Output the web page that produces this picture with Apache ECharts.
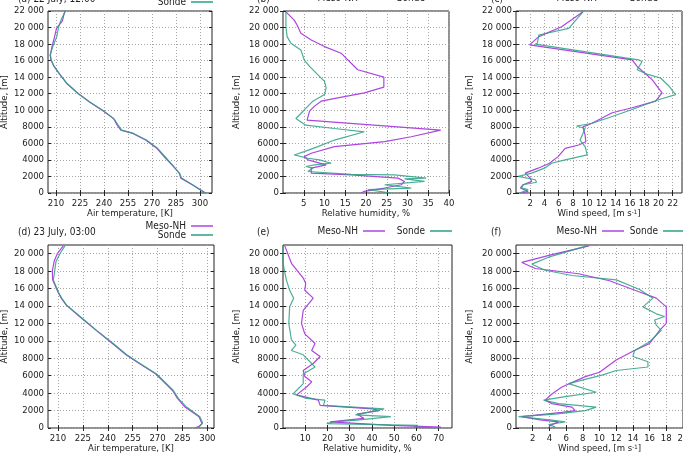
<!DOCTYPE html>
<html>
<head>
<meta charset="utf-8">
<script src="https://cdn.jsdelivr.net/npm/echarts@6/dist/echarts.min.js"></script>
<style>
  html, body { margin: 0; background: #fff; }
  #main { width: 683px; height: 455px; }
</style>
</head>
<body>
<div id="main"></div>
<script>
const FONT = "'Liberation Sans Narrow', 'DejaVu Sans Condensed', 'Liberation Sans', sans-serif";
const MESO_COLOR = '#ad45e0';
const SONDE_COLOR = '#2ba084';

// tick labels
const tempTicks = [210, 225, 240, 255, 270, 285, 300];
const rhTicksB = [5, 10, 15, 20, 25, 30, 35, 40];
const windTicksC = [2, 4, 6, 8, 10, 12, 14, 16, 18, 20, 22];
const rhTicksE = [10, 20, 30, 40, 50, 60, 70];
const windTicksF = [2, 4, 6, 8, 10, 12, 14, 16, 18, 20];
const altTicksTop = [0, 2000, 4000, 6000, 8000, 10000, 12000, 14000, 16000, 18000, 20000, 22000];
const altTicksBottom = [0, 2000, 4000, 6000, 8000, 10000, 12000, 14000, 16000, 18000, 20000];

// (a) 22 July 12:00, air temperature [K] vs altitude [m]
const tempMesoA = [[303.5,0],[296,900],[288,1800],[287,2400],[283.5,3200],[278.5,4200],[273,5400],[266,6400],[258,7200],[250.5,7600],[248,8300],[246,9000],[239.5,9900],[231,11000],[224,12000],[217,13200],[212.5,14300],[208.5,15400],[206.8,16100],[206.5,16700],[207.5,17700],[209,18800],[210.3,19900],[214,20800],[215.5,22000]];
const tempSondeA = [[303,0],[296,900],[288.5,1800],[287.5,2300],[284,3100],[279,4200],[273.5,5400],[266.5,6400],[258.5,7200],[251,7600],[248.5,8300],[246.5,8900],[240,9900],[231,11000],[224,12000],[217,13200],[212.5,14300],[208.5,15400],[207,16100],[206.3,16700],[208,17700],[210.5,18900],[211.5,20000],[213.5,21100],[216,22000]];

// (b) relative humidity [%]
const rhMesoB = [[18.8,0],[19.6,200],[24.5,600],[28.5,1000],[29.3,1400],[27.7,1800],[16.4,2200],[6.8,2400],[6.4,2600],[6.8,3000],[10.4,3400],[10,3600],[6,4000],[5.1,4400],[6.8,4800],[12.4,5600],[24.5,6200],[30.9,6800],[38,7600],[5.8,8800],[5.5,9000],[6.4,9900],[7.6,10500],[9.2,11100],[13.2,11500],[19.6,12100],[24.3,12800],[24.3,14000],[18,14900],[14,16900],[10,17700],[6.8,18500],[4.3,19300],[3.4,20300],[2.7,20900],[0.7,21900]];
const rhSondeB = [[26,0],[20.4,400],[30.9,600],[24.5,1000],[34.1,1400],[29.3,1700],[34.5,1800],[26.9,2200],[16.4,2250],[6,2600],[7.2,3000],[5.5,3200],[7.6,3400],[11.6,3600],[8.8,4000],[6,4200],[2.7,4600],[5.1,5000],[8.4,5600],[12.4,6400],[19.6,7400],[20,7600],[12.4,7800],[5.5,8200],[3.1,9000],[3.9,9400],[6,10500],[7.2,11100],[10,11900],[10.4,12700],[10,13500],[6.4,15300],[5.1,16100],[4.3,17300],[1.9,18100],[1,18900],[0.7,20100],[0.7,21900]];

// (c) wind speed [m/s]
const windMesoC = [[0.8,0],[1.7,200],[0.6,600],[1,1000],[2.2,1400],[2,1800],[1.3,2400],[3.1,3000],[4.7,3600],[5.9,4400],[6.9,5400],[8.8,5800],[9.8,6200],[9.7,7000],[9.4,8000],[10.6,8400],[13.5,9700],[16.3,10300],[19.6,11100],[20.5,12100],[19.1,13700],[17,15300],[16.3,16100],[1.9,17900],[3.2,18900],[6.4,20100],[9.4,21900]];
const windSondeC = [[0.5,0],[1.7,400],[0.8,600],[1,1000],[2.9,1300],[2.7,1600],[0.3,2000],[2.2,2400],[4,3000],[5,3600],[6.9,4000],[10,4600],[9.7,5600],[9,6400],[9.7,7800],[8.5,8100],[10.6,8400],[13,9100],[16.3,10100],[20.1,11300],[22.4,11900],[21.5,12900],[20.3,13900],[18.6,14300],[17,14900],[17.7,15900],[17.2,16100],[2.7,18000],[3,18100],[3.2,19100],[7.4,19900],[9.4,21900]];

// (d) 23 July 03:00, air temperature [K]
const tempMesoD = [[292.5,0],[295,200],[296.8,500],[295,1300],[286.5,2400],[282,3400],[279,4300],[269,6200],[259,7400],[251,8400],[242.8,9700],[233,11200],[223,12800],[215,14100],[212,14900],[210,15600],[206.8,17000],[206.6,18000],[207.8,19200],[209.6,20000],[213.2,20900]];
const tempSondeD = [[294.5,0],[295.1,200],[297.1,600],[295.5,1300],[287.5,2400],[282.5,3400],[279.5,4300],[269.4,6200],[259.4,7400],[251.4,8400],[243.3,9700],[233.3,11200],[223.3,12800],[215.2,14100],[212.2,14900],[210.2,15600],[207.2,17000],[207.8,17700],[208.8,19100],[211.2,20000],[214.2,20900]];

// (e) relative humidity [%]
const rhMesoE = [[69.7,0],[71,100],[48.5,300],[21.2,700],[36.4,1100],[33.3,1600],[43.3,2000],[40.3,2200],[16.7,2600],[15.9,3200],[6.1,3800],[10.6,4700],[12.9,5300],[9.8,5900],[9.1,6600],[13.6,7400],[16.7,8200],[12.9,8900],[14.4,9700],[9.8,10800],[8.3,12000],[9.1,13500],[13.6,14900],[9.8,15800],[10.2,16600],[9.1,17200],[3.8,18900],[0.8,20900]];
const rhSondeE = [[69.7,0],[59,100],[60.6,300],[19.7,500],[22.7,700],[33.3,900],[48.5,1300],[32.6,1500],[45.5,2200],[18.2,2600],[18.9,3200],[10.6,3400],[4.5,3900],[9.1,5100],[9.1,6200],[14.4,7000],[9.1,8400],[3.8,8900],[5.8,9500],[3.8,10100],[2.6,12000],[3,13900],[4.8,14900],[3,15800],[1.5,17000],[0,18900],[0,20900]];

// (f) wind speed [m/s]
const windMesoF = [[3.9,0],[4.1,300],[5.1,700],[3.1,900],[0.7,1300],[5.5,1800],[7.1,2000],[6.7,2400],[4.3,2800],[3.5,3200],[4.3,3900],[5.5,4700],[8.3,5900],[10,6400],[12,7800],[14,8800],[16,9700],[17.2,11200],[18,12000],[18,13900],[16.8,14900],[14.8,15600],[11.2,16900],[7.5,17700],[2.3,18300],[0.7,19000],[4.3,19900],[8.75,20900]];
const windSondeF = [[4.7,100],[3.9,400],[5.9,700],[4.3,900],[0.3,1300],[4.7,1600],[8.3,2000],[9.6,2400],[5.1,2800],[3.3,3200],[5.9,3600],[9.6,4100],[6.3,5100],[8.75,5700],[10.4,6100],[12,6600],[15.8,7000],[15.8,7600],[14,8200],[14.2,8900],[16,9900],[17.4,11200],[16.8,11800],[16.6,12400],[17.8,12800],[16.8,13100],[15.2,13900],[16.4,14900],[14.8,15900],[12,17000],[6.7,17500],[3.5,18100],[1.9,18800],[3.9,19600],[8.5,20900]];

const panels = [
  { title: '(a) 22 July, 12:00', left: 48, top: 11, width: 164, height: 182, xMin: 205, xMax: 307.5, xTicks: tempTicks, yMax: 22000, yTicks: altTicksTop,
    xName: 'Air temperature, [K]', meso: tempMesoA, sonde: tempSondeA, stacked: true },
  { title: '(b)', left: 283, top: 11, width: 166, height: 182, xMin: 0, xMax: 40, xTicks: rhTicksB, yMax: 22000, yTicks: altTicksTop,
    xName: 'Relative humidity, %', meso: rhMesoB, sonde: rhSondeB },
  { title: '(c)', left: 516, top: 11, width: 166, height: 182, xMin: 0, xMax: 23.3, xTicks: windTicksC, yMax: 22000, yTicks: altTicksTop,
    xName: 'Wind speed, [m s{sup|-1}]', meso: windMesoC, sonde: windSondeC },
  { title: '(d) 23 July, 03:00', left: 48, top: 245, width: 166, height: 183, xMin: 204, xMax: 304, xTicks: tempTicks, yMax: 21000, yTicks: altTicksBottom,
    xName: 'Air temperature, [K]', meso: tempMesoD, sonde: tempSondeD, stacked: true },
  { title: '(e)', left: 283, top: 245, width: 169, height: 183, xMin: 0, xMax: 76, xTicks: rhTicksE, yMax: 21000, yTicks: altTicksBottom,
    xName: 'Relative humidity, %', meso: rhMesoE, sonde: rhSondeE },
  { title: '(f)', left: 516, top: 245, width: 167, height: 183, xMin: 0, xMax: 20, xTicks: windTicksF, yMax: 21000, yTicks: altTicksBottom,
    xName: 'Wind speed, [m s{sup|-1}]', meso: windMesoF, sonde: windSondeF }
];

function altLabel(v) {
  if (v >= 10000) return Math.floor(v / 1000) + ' ' + String(v % 1000).padStart(3, '0');
  return String(v);
}

const txt = { fontFamily: FONT, fontSize: 9.5, color: '#222' };
const grid = [], xAxis = [], yAxis = [], series = [], title = [], legend = [];

panels.forEach((p, i) => {
  grid.push({ left: p.left, top: p.top, width: p.width, height: p.height, show: true,
    borderColor: '#222', borderWidth: 1, backgroundColor: 'transparent', outerBoundsMode: 'none' });

  const dotted = { show: true, lineStyle: { color: '#a5a5a5', type: [1, 2], width: 1 } };
  // bottom x axis
  xAxis.push({ type: 'value', gridIndex: i, min: p.xMin, max: p.xMax,
    name: p.xName, nameLocation: 'middle', nameGap: 16, nameMoveOverlap: false,
    nameTextStyle: Object.assign({}, txt, { rich: { sup: { fontFamily: FONT, fontSize: 6, color: '#222', verticalAlign: 'top', padding: [0, 0, 4, 0] } } }),
    axisLine: { show: false },
    axisTick: { inside: true, length: 3, customValues: p.xTicks, lineStyle: { color: '#222' } },
    axisLabel: Object.assign({ customValues: p.xTicks, margin: 6 }, txt),
    splitLine: dotted });
  // mirrored top ticks
  xAxis.push({ type: 'value', gridIndex: i, position: 'top', min: p.xMin, max: p.xMax,
    axisLine: { show: false }, axisLabel: { show: false }, splitLine: { show: false },
    axisTick: { inside: true, length: 3, customValues: p.xTicks, lineStyle: { color: '#222' } } });
  // left y axis
  yAxis.push({ type: 'value', gridIndex: i, min: 0, max: p.yMax,
    name: 'Altitude, [m]', nameLocation: 'middle', nameRotate: 90, nameGap: i % 3 === 0 ? 38 : 41, nameMoveOverlap: false,
    nameTextStyle: txt,
    axisLine: { show: false },
    axisTick: { inside: true, length: 3, customValues: p.yTicks, lineStyle: { color: '#222' } },
    axisLabel: Object.assign({ customValues: p.yTicks, margin: 4, formatter: altLabel }, txt),
    splitLine: dotted });
  // mirrored right ticks
  yAxis.push({ type: 'value', gridIndex: i, position: 'right', min: 0, max: p.yMax,
    axisLine: { show: false }, axisLabel: { show: false }, splitLine: { show: false },
    axisTick: { inside: true, length: 3, customValues: p.yTicks, lineStyle: { color: '#222' } } });

  const base = { type: 'line', xAxisIndex: 2 * i, yAxisIndex: 2 * i, showSymbol: false, symbol: 'none', animation: false };
  series.push(Object.assign({ name: 'Meso-NH', data: p.meso, lineStyle: { width: 1.2, color: MESO_COLOR }, itemStyle: { color: MESO_COLOR } }, base));
  series.push(Object.assign({ name: 'Sonde', data: p.sonde, lineStyle: { width: 1.2, color: SONDE_COLOR, opacity: 0.85 }, itemStyle: { color: SONDE_COLOR } }, base));

  // panel title
  const col = i % 3;
  const rowTop = i < 3 ? -6 : 227;
  title.push({ text: p.title, left: [18, 257, 491][col], top: rowTop, padding: 0,
    textStyle: Object.assign({}, txt, { fontSize: 10, fontWeight: 'normal' }) });

  // legends: text followed by a short line sample
  const leg = { icon: 'rect', itemWidth: 22, itemHeight: 1.5, itemGap: 0, padding: 0, align: 'right',
    textStyle: Object.assign({}, txt, { fontSize: 10 }), selectedMode: false };
  if (p.stacked) {
    legend.push(Object.assign({ data: ['Meso-NH'], right: 683 - 213, top: rowTop - 6 }, leg));
    legend.push(Object.assign({ data: ['Sonde'], right: 683 - 213, top: rowTop + 3 }, leg));
  } else {
    const r = col === 1 ? [298, 231] : [59, -2];
    legend.push(Object.assign({ data: ['Meso-NH'], right: r[0], top: rowTop - 1 }, leg));
    legend.push(Object.assign({ data: ['Sonde'], right: r[1], top: rowTop - 1 }, leg));
  }
});

const chart = echarts.init(document.getElementById('main'));
chart.setOption({
  animation: false,
  backgroundColor: '#fff',
  title, legend, grid, xAxis, yAxis, series
});
</script>
</body>
</html>
